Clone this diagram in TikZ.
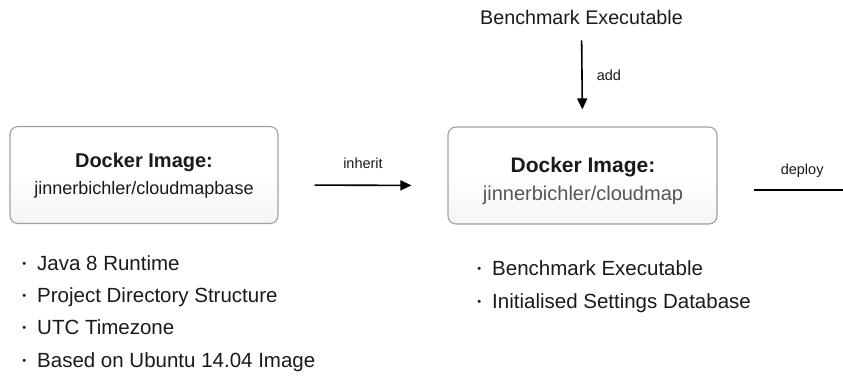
\documentclass[tikz,border=0pt]{standalone}
\usepackage{fontspec}
\setmainfont{Liberation Sans}
\usetikzlibrary{arrows.meta}
\definecolor{boxgray}{HTML}{A0A0A0}
\definecolor{txt}{HTML}{1A1A1A}
\definecolor{subtxt}{HTML}{555555}
\newcommand\bitem[1]{\makebox[0pt][r]{\raisebox{2.5pt}{\fontsize{11}{11}\selectfont •}\hspace{11pt}}#1}
\begin{document}
\begin{tikzpicture}[x=1pt,y=-1pt,
  imgbox/.style={draw=boxgray, line width=1.1pt, rounded corners=8pt,
    top color=white, bottom color=black!4, middle color=white, inner sep=0pt},
  boxtext/.style={align=center, inner sep=0pt, text=txt},
  listitem/.style={anchor=base west, inner sep=0pt, text=txt,
    font=\fontsize{20.5}{24}\selectfont},
  lbl/.style={inner sep=0pt, text=txt, font=\fontsize{14.5}{17}\selectfont},
  conn/.style={line width=1.6pt, -{Triangle[length=11pt,width=10pt]}},
]
\path[use as bounding box] (0,0) rectangle (843,378);
\clip (0,0) rectangle (843,378);

% boxes
\node[imgbox, minimum width=268pt, minimum height=97pt] (box1) at (144,175) {};
\node[imgbox, minimum width=269pt, minimum height=97pt] (box2) at (582.5,175.5) {};

\node[boxtext, font=\fontsize{18}{27}\selectfont] (box1t) at (144,175.4)
  {{\fontsize{20}{27}\selectfont\bfseries Docker Image:}\\jinnerbichler/cloudmapbase};
\node[boxtext, font=\fontsize{20}{28}\selectfont] (box2t) at (583,180.6)
  {{\fontsize{21}{28}\selectfont\bfseries Docker Image:}\\\textcolor{subtxt}{jinnerbichler/cloudmap}};

% top source
\node[inner sep=0pt, anchor=base, text=txt, font=\fontsize{19.7}{24}\selectfont] (bench) at (581.5,24) {Benchmark Executable};
\coordinate (out) at (854,190);

% connectors
\draw[conn, shorten <=16pt, shorten >=17pt] (bench.south) -- node[lbl, midway, right=14pt] (addl) {add} (box2.north);
\draw[conn, shorten <=36pt, shorten >=36pt] ([yshift=-10pt]box1.east) -- node[lbl, midway, above=16pt] (inhl) {inherit} ([yshift=-10pt]box2.west);
\draw[conn, shorten <=36pt] ([yshift=-14.5pt]box2.east) -- node[lbl, pos=0.62, above=12pt] (depl) {deploy} (out);

% lists
\node[listitem] (l1) at (37,270) {\bitem{Java 8 Runtime}};
\node[listitem] (l2) at (37,302) {\bitem{Project Directory Structure}};
\node[listitem] (l3) at (37,334) {\bitem{UTC Timezone}};
\node[listitem] (l4) at (37,367) {\bitem{Based on Ubuntu 14.04 Image}};

\node[listitem] (r1) at (492,275) {\bitem{Benchmark Executable}};
\node[listitem] (r2) at (492,308) {\bitem{Initialised Settings Database}};
\end{tikzpicture}
\end{document}
